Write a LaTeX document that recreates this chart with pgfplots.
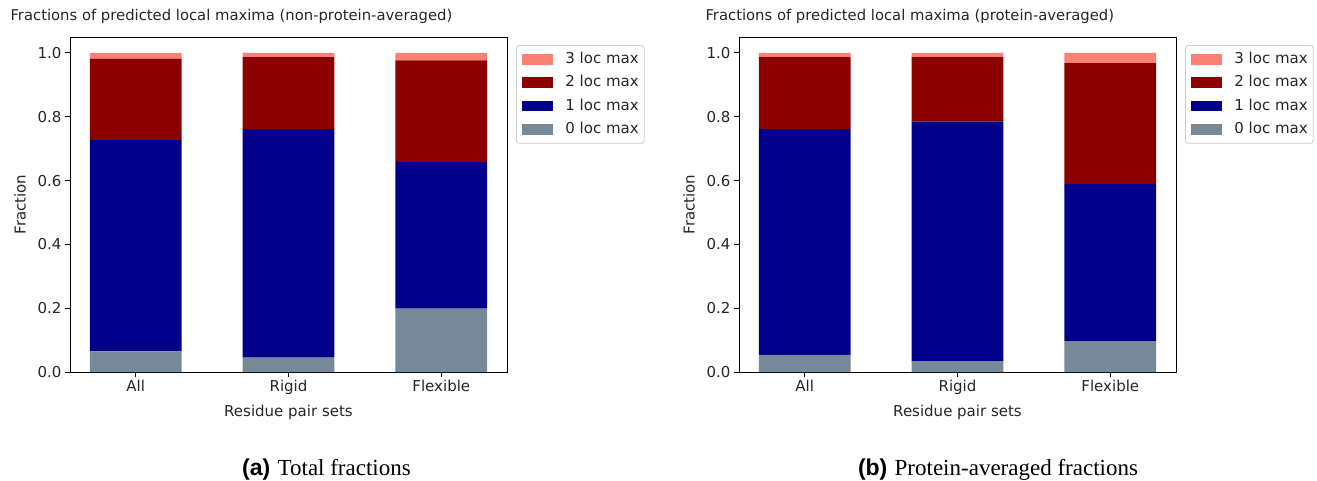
\documentclass[border=0pt]{standalone}
\usepackage{pgfplots}
\pgfplotsset{compat=1.18}
\usepackage{fontspec}
\setmainfont{DejaVu Sans}
\newfontfamily\capserif{Liberation Serif}
\newfontfamily\capsans{Liberation Sans}
\definecolor{cthree}{RGB}{250,128,114}
\definecolor{ctwo}{RGB}{139,0,0}
\definecolor{cone}{RGB}{0,0,139}
\definecolor{czero}{RGB}{119,136,153}
\definecolor{lgframe}{RGB}{204,204,204}

% increments of the stacked bars: x = 0 All, 1 Rigid, 2 Flexible
\pgfplotstableread{
x z0 z1 z2 z3
0 0.065 0.662 0.255 0.018
1 0.045 0.716 0.226 0.013
2 0.199 0.459 0.319 0.023
}\tabtotal
\pgfplotstableread{
x z0 z1 z2 z3
0 0.054 0.707 0.226 0.013
1 0.034 0.751 0.202 0.013
2 0.097 0.492 0.379 0.032
}\tabprot

\pgfplotsset{
  myaxis/.style={
    scale only axis, width=437pt, height=335pt,
    anchor=south west,
    ybar stacked, bar width=0.6,
    xmin=-0.43, xmax=2.43, ymin=0, ymax=1.05,
    xtick={0,1,2}, xticklabels={All,Rigid,Flexible},
    ytick={0,0.2,0.4,0.6,0.8,1.0},
    yticklabel style={/pgf/number format/fixed, /pgf/number format/precision=1, /pgf/number format/fixed zerofill},
    /pgf/number format/assume math mode=true,
    tick align=outside, tick pos=left, major tick length=5pt,
    tick style={black, line width=1pt},
    axis line style={black, line width=1pt},
    tick label style={font=\fontsize{15}{18}\selectfont, text=black!85},
    title style={font=\fontsize{14.8}{17}\selectfont, text=black!85, anchor=base west},
    every axis x label/.style={at={(axis description cs:0.5,-0.1336)}, anchor=base,
      font=\fontsize{15}{18}\selectfont, text=black!85},
    every axis y label/.style={at={(axis description cs:-0.1144,0.5)}, rotate=90, anchor=center,
      font=\fontsize{15}{18}\selectfont, text=black!85},
    xlabel={Residue pair sets}, ylabel={Fraction},
    area legend, reverse legend,
    legend image code/.code={\path[##1, sharp corners] (0pt,-5.3pt) rectangle (31pt,5.3pt);},
    legend cell align=left,
    legend style={at={(axis description cs:1.0206,0.976)}, anchor=north west,
      draw=lgframe, rounded corners=3pt, fill=white, line width=0.8pt,
      font=\fontsize{15}{18}\selectfont, text=black!85,
      row sep=9.3pt, inner xsep=5.5pt, inner ysep=7pt,
      nodes={inner sep=0pt, text height=11pt, text depth=3pt},
      /tikz/every odd column/.append style={column sep=12.5pt}},
  }
}

\begin{document}
\begin{tikzpicture}
\useasboundingbox (0pt,0pt) rectangle (1317pt,-480pt);

\begin{axis}[myaxis, at={(70pt,-372pt)},
  title={Fractions of predicted local maxima (non-protein-averaged)},
  title style={at={(axis description cs:-0.1442,1.0322)}}]
\addplot[fill=czero, draw=none] table[x=x, y=z0] {\tabtotal};
\addplot[fill=cone, draw=none] table[x=x, y=z1] {\tabtotal};
\addplot[fill=ctwo, draw=none] table[x=x, y=z2] {\tabtotal};
\addplot[fill=cthree, draw=none] table[x=x, y=z3] {\tabtotal};
\legend{0 loc max,1 loc max,2 loc max,3 loc max}
\end{axis}

\begin{axis}[myaxis, at={(739pt,-372pt)},
  title={Fractions of predicted local maxima (protein-averaged)},
  title style={at={(axis description cs:-0.0847,1.0322)}}]
\addplot[fill=czero, draw=none] table[x=x, y=z0] {\tabprot};
\addplot[fill=cone, draw=none] table[x=x, y=z1] {\tabprot};
\addplot[fill=ctwo, draw=none] table[x=x, y=z2] {\tabprot};
\addplot[fill=cthree, draw=none] table[x=x, y=z3] {\tabprot};
\legend{0 loc max,1 loc max,2 loc max,3 loc max}
\end{axis}

\node[anchor=base, font=\fontsize{23}{27}\selectfont] at (326.5pt,-475pt)
  {{\capsans\bfseries (a)} {\capserif Total fractions}};
\node[anchor=base, font=\fontsize{23}{27}\selectfont] at (998pt,-475pt)
  {{\capsans\bfseries (b)} {\capserif Protein-averaged fractions}};
\end{tikzpicture}
\end{document}
